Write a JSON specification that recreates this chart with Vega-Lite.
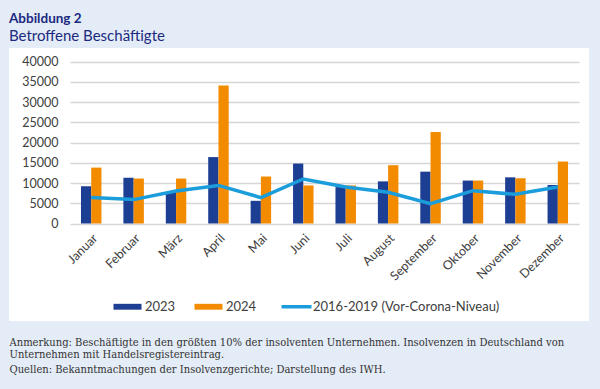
{
  "$schema": "https://vega.github.io/schema/vega-lite/v6.json",
  "width": 580,
  "height": 273,
  "autosize": {"type": "none"},
  "padding": {"left": 9, "top": 48, "right": 11, "bottom": 68},
  "background": "#e4ecf7",
  "title": {
    "text": "Abbildung 2",
    "subtitle": "Betroffene Beschäftigte",
    "anchor": "start",
    "frame": "group",
    "font": "Lato",
    "fontSize": 13.5,
    "fontWeight": "bold",
    "color": "#1b2a80",
    "subtitleFont": "Lato",
    "subtitleFontSize": 15,
    "subtitleColor": "#1b2a80",
    "subtitlePadding": 4,
    "offset": 4
  },
  "config": {"view": {"fill": "white", "stroke": null}, "font": "Lato"},
  "datasets": {
    "bars": [
      {"month": "Januar", "series": "2023", "value": 9200},
      {"month": "Januar", "series": "2024", "value": 13800},
      {"month": "Februar", "series": "2023", "value": 11300},
      {"month": "Februar", "series": "2024", "value": 11100},
      {"month": "März", "series": "2023", "value": 7800},
      {"month": "März", "series": "2024", "value": 11100},
      {"month": "April", "series": "2023", "value": 16400},
      {"month": "April", "series": "2024", "value": 34100},
      {"month": "Mai", "series": "2023", "value": 5600},
      {"month": "Mai", "series": "2024", "value": 11600},
      {"month": "Juni", "series": "2023", "value": 14800},
      {"month": "Juni", "series": "2024", "value": 9400},
      {"month": "Juli", "series": "2023", "value": 9000},
      {"month": "Juli", "series": "2024", "value": 9400},
      {"month": "August", "series": "2023", "value": 10400},
      {"month": "August", "series": "2024", "value": 14400},
      {"month": "September", "series": "2023", "value": 12800},
      {"month": "September", "series": "2024", "value": 22600},
      {"month": "Oktober", "series": "2023", "value": 10600},
      {"month": "Oktober", "series": "2024", "value": 10600},
      {"month": "November", "series": "2023", "value": 11400},
      {"month": "November", "series": "2024", "value": 11200},
      {"month": "Dezember", "series": "2023", "value": 9500},
      {"month": "Dezember", "series": "2024", "value": 15300}
    ],
    "line": [
      {"month": "Januar", "value": 6400},
      {"month": "Februar", "value": 5900},
      {"month": "März", "value": 8000},
      {"month": "April", "value": 9400},
      {"month": "Mai", "value": 6400},
      {"month": "Juni", "value": 11000},
      {"month": "Juli", "value": 9000},
      {"month": "August", "value": 7700},
      {"month": "September", "value": 4900},
      {"month": "Oktober", "value": 8100},
      {"month": "November", "value": 7200},
      {"month": "Dezember", "value": 9000}
    ]
  },
  "encoding": {
    "x": {
      "field": "month",
      "type": "nominal",
      "sort": ["Januar", "Februar", "März", "April", "Mai", "Juni", "Juli", "August", "September", "Oktober", "November", "Dezember"],
      "scale": {
        "domain": ["Januar", "Februar", "März", "April", "Mai", "Juni", "Juli", "August", "September", "Oktober", "November", "Dezember"],
        "range": [61, 570],
        "paddingInner": 0.517,
        "paddingOuter": 0.2585
      },
      "axis": {
        "orient": "bottom",
        "offset": -97.5,
        "domain": false,
        "ticks": false,
        "grid": false,
        "labelAngle": -45,
        "labelPadding": 8,
        "labelFont": "Lato",
        "labelFontSize": 12.5,
        "labelColor": "#404040",
        "title": ["Anmerkung: Beschäftigte in den größten 10% der insolventen Unternehmen. Insolvenzen in Deutschland von", "Unternehmen mit Handelsregistereintrag."],
        "titleX": 0,
        "titleY": 122,
        "titleAlign": "left",
        "titleAnchor": "start",
        "titleBaseline": "alphabetic",
        "titleLineHeight": 11.5,
        "titleFont": "DejaVu Serif Condensed",
        "titleFontSize": 11.1,
        "titleFontWeight": "normal",
        "titleColor": "#333333"
      }
    },
    "y": {
      "field": "value",
      "type": "quantitative",
      "scale": {"domain": [0, 40000], "range": [175.5, 13.5], "nice": false},
      "axis": {
        "orient": "left",
        "offset": -58,
        "labelPadding": 9,
        "domain": false,
        "ticks": false,
        "grid": true,
        "gridColor": "#d6d6d6",
        "gridWidth": 1.5,
        "values": [0, 5000, 10000, 15000, 20000, 25000, 30000, 35000, 40000],
        "labelOverlap": false,
        "format": "d",
        "labelFont": "Lato",
        "labelFontSize": 12.5,
        "labelColor": "#404040",
        "title": "Quellen: Bekanntmachungen der Insolvenzgerichte; Darstellung des IWH.",
        "titleAngle": 0,
        "titleX": -58,
        "titleY": 324,
        "titleAlign": "left",
        "titleBaseline": "alphabetic",
        "titleFont": "DejaVu Serif Condensed",
        "titleFontSize": 11.1,
        "titleFontWeight": "normal",
        "titleColor": "#333333"
      }
    }
  },
  "layer": [
    {
      "data": {"name": "bars"},
      "mark": {"type": "bar"},
      "encoding": {
        "xOffset": {"field": "series", "type": "nominal", "sort": ["2023", "2024"]},
        "color": {
          "field": "series",
          "type": "nominal",
          "scale": {
            "domain": ["2023", "2024", "2016-2019 (Vor-Corona-Niveau)"],
            "range": ["#1d3f93", "#f28b00", "#1b9ddb"]
          },
          "legend": {
            "orient": "none",
            "legendX": 103,
            "legendY": 252,
            "direction": "horizontal",
            "title": null,
            "labelFont": "Lato",
            "labelFontSize": 13,
            "labelColor": "#404040",
            "labelOffset": 20,
            "labelLimit": 300,
            "columnPadding": 17,
            "encode": {
              "symbols": {
                "update": {
                  "shape": {"signal": "datum.label == '2016-2019 (Vor-Corona-Niveau)' ? 'M-0.333,0H1.667' : 'M-0.357,-0.21H1.643V0.21H-0.357Z'"},
                  "size": {"signal": "datum.label == '2016-2019 (Vor-Corona-Niveau)' ? 900 : 784"},
                  "fill": {"signal": "datum.label == '2016-2019 (Vor-Corona-Niveau)' ? 'transparent' : scale('color', datum.label)"},
                  "stroke": {"scale": "color", "field": "label"},
                  "strokeWidth": {"signal": "datum.label == '2016-2019 (Vor-Corona-Niveau)' ? 3.5 : 0"},
                  "opacity": {"value": 1}
                }
              }
            }
          }
        }
      }
    },
    {
      "data": {"name": "line"},
      "mark": {"type": "line", "strokeWidth": 3.5},
      "encoding": {
        "color": {"datum": "2016-2019 (Vor-Corona-Niveau)"}
      }
    }
  ]
}
